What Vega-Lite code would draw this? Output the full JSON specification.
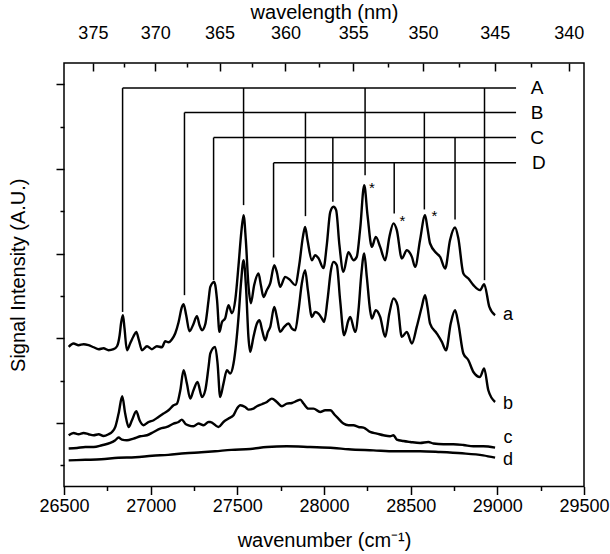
{
  "$schema": "https://vega.github.io/schema/vega-lite/v6.json",
  "width": 520,
  "height": 423.5,
  "autosize": "none",
  "padding": {"left": 64, "top": 63, "right": 26, "bottom": 67},
  "background": "white",
  "config": {
    "font": "Liberation Sans",
    "view": {"stroke": "black", "strokeWidth": 1.5},
    "axis": {"domain": false, "grid": false, "tickColor": "black", "tickWidth": 1.5, "labelColor": "black", "titleColor": "black", "labelFont": "Liberation Sans", "titleFont": "Liberation Sans", "labelFontSize": 18, "titleFontSize": 20, "titleFontWeight": "normal", "labelFlush": false}
  },
  "datasets": {
    "spectra": [
      {"s":"a","x":26527,"y":0.898},{"s":"a","x":26555,"y":0.938},{"s":"a","x":26584,"y":0.918},{"s":"a","x":26613,"y":0.93},{"s":"a","x":26642,"y":0.918},{"s":"a","x":26671,"y":0.894},{"s":"a","x":26700,"y":0.871},{"s":"a","x":26728,"y":0.882},{"s":"a","x":26757,"y":0.859},{"s":"a","x":26786,"y":0.871},{"s":"a","x":26806,"y":0.906},{"s":"a","x":26821,"y":1.036},{"s":"a","x":26830,"y":1.19},{"s":"a","x":26840,"y":1.272},{"s":"a","x":26849,"y":1.119},{"s":"a","x":26863,"y":0.859},{"s":"a","x":26882,"y":0.942},{"s":"a","x":26901,"y":1.024},{"s":"a","x":26917,"y":1.075},{"s":"a","x":26932,"y":0.977},{"s":"a","x":26950,"y":0.859},{"s":"a","x":26979,"y":0.906},{"s":"a","x":27007,"y":0.871},{"s":"a","x":27036,"y":0.906},{"s":"a","x":27065,"y":0.894},{"s":"a","x":27084,"y":0.965},{"s":"a","x":27103,"y":0.953},{"s":"a","x":27123,"y":0.989},{"s":"a","x":27142,"y":1.06},{"s":"a","x":27161,"y":1.19},{"s":"a","x":27180,"y":1.367},{"s":"a","x":27190,"y":1.402},{"s":"a","x":27205,"y":1.272},{"s":"a","x":27224,"y":1.083},{"s":"a","x":27244,"y":1.154},{"s":"a","x":27267,"y":1.26},{"s":"a","x":27282,"y":1.154},{"s":"a","x":27296,"y":1.095},{"s":"a","x":27315,"y":1.166},{"s":"a","x":27334,"y":1.45},{"s":"a","x":27344,"y":1.607},{"s":"a","x":27367,"y":1.666},{"s":"a","x":27383,"y":1.45},{"s":"a","x":27397,"y":1.075},{"s":"a","x":27411,"y":1.19},{"s":"a","x":27430,"y":1.237},{"s":"a","x":27449,"y":1.39},{"s":"a","x":27469,"y":1.296},{"s":"a","x":27488,"y":1.45},{"s":"a","x":27507,"y":1.863},{"s":"a","x":27523,"y":2.252},{"s":"a","x":27536,"y":2.454},{"s":"a","x":27549,"y":2.158},{"s":"a","x":27564,"y":1.627},{"s":"a","x":27578,"y":1.414},{"s":"a","x":27597,"y":1.627},{"s":"a","x":27622,"y":1.765},{"s":"a","x":27636,"y":1.627},{"s":"a","x":27651,"y":1.488},{"s":"a","x":27670,"y":1.567},{"s":"a","x":27690,"y":1.65},{"s":"a","x":27713,"y":1.863},{"s":"a","x":27728,"y":1.78},{"s":"a","x":27747,"y":1.607},{"s":"a","x":27776,"y":1.725},{"s":"a","x":27805,"y":1.686},{"s":"a","x":27834,"y":1.627},{"s":"a","x":27857,"y":1.863},{"s":"a","x":27878,"y":2.194},{"s":"a","x":27891,"y":2.315},{"s":"a","x":27905,"y":2.158},{"s":"a","x":27930,"y":1.922},{"s":"a","x":27949,"y":1.981},{"s":"a","x":27968,"y":1.946},{"s":"a","x":27997,"y":1.828},{"s":"a","x":28016,"y":2.099},{"s":"a","x":28036,"y":2.489},{"s":"a","x":28055,"y":2.552},{"s":"a","x":28070,"y":2.513},{"s":"a","x":28089,"y":2.099},{"s":"a","x":28112,"y":1.784},{"s":"a","x":28141,"y":2.017},{"s":"a","x":28170,"y":1.922},{"s":"a","x":28189,"y":1.961},{"s":"a","x":28209,"y":2.3},{"s":"a","x":28232,"y":2.808},{"s":"a","x":28251,"y":2.454},{"s":"a","x":28276,"y":2.079},{"s":"a","x":28299,"y":2.197},{"s":"a","x":28324,"y":2.079},{"s":"a","x":28353,"y":1.922},{"s":"a","x":28377,"y":2.194},{"s":"a","x":28401,"y":2.356},{"s":"a","x":28420,"y":2.276},{"s":"a","x":28449,"y":1.942},{"s":"a","x":28478,"y":2.04},{"s":"a","x":28507,"y":1.961},{"s":"a","x":28526,"y":1.843},{"s":"a","x":28554,"y":2.158},{"s":"a","x":28583,"y":2.454},{"s":"a","x":28597,"y":2.3},{"s":"a","x":28612,"y":2.119},{"s":"a","x":28651,"y":2.001},{"s":"a","x":28670,"y":1.961},{"s":"a","x":28699,"y":1.824},{"s":"a","x":28727,"y":2.158},{"s":"a","x":28756,"y":2.308},{"s":"a","x":28775,"y":2.182},{"s":"a","x":28804,"y":1.765},{"s":"a","x":28833,"y":1.706},{"s":"a","x":28862,"y":1.627},{"s":"a","x":28900,"y":1.568},{"s":"a","x":28924,"y":1.638},{"s":"a","x":28954,"y":1.37},{"s":"a","x":28987,"y":1.272},

      {"s":"b","x":26527,"y":-0.145},{"s":"b","x":26555,"y":-0.118},{"s":"b","x":26584,"y":-0.133},{"s":"b","x":26613,"y":-0.118},{"s":"b","x":26642,"y":-0.133},{"s":"b","x":26671,"y":-0.145},{"s":"b","x":26700,"y":-0.133},{"s":"b","x":26728,"y":-0.154},{"s":"b","x":26757,"y":-0.133},{"s":"b","x":26777,"y":-0.106},{"s":"b","x":26796,"y":-0.047},{"s":"b","x":26815,"y":0.111},{"s":"b","x":26836,"y":0.315},{"s":"b","x":26853,"y":0.111},{"s":"b","x":26873,"y":-0.047},{"s":"b","x":26892,"y":0.032},{"s":"b","x":26917,"y":0.138},{"s":"b","x":26936,"y":0.032},{"s":"b","x":26959,"y":-0.027},{"s":"b","x":26988,"y":0.012},{"s":"b","x":27017,"y":0.032},{"s":"b","x":27045,"y":0.071},{"s":"b","x":27074,"y":0.111},{"s":"b","x":27103,"y":0.15},{"s":"b","x":27132,"y":0.209},{"s":"b","x":27152,"y":0.229},{"s":"b","x":27171,"y":0.386},{"s":"b","x":27190,"y":0.623},{"s":"b","x":27209,"y":0.465},{"s":"b","x":27228,"y":0.288},{"s":"b","x":27247,"y":0.386},{"s":"b","x":27270,"y":0.484},{"s":"b","x":27296,"y":0.307},{"s":"b","x":27315,"y":0.386},{"s":"b","x":27334,"y":0.662},{"s":"b","x":27344,"y":0.82},{"s":"b","x":27372,"y":0.898},{"s":"b","x":27386,"y":0.702},{"s":"b","x":27401,"y":0.307},{"s":"b","x":27420,"y":0.465},{"s":"b","x":27440,"y":0.623},{"s":"b","x":27459,"y":0.584},{"s":"b","x":27478,"y":0.702},{"s":"b","x":27493,"y":0.938},{"s":"b","x":27507,"y":1.252},{"s":"b","x":27521,"y":1.647},{"s":"b","x":27536,"y":1.922},{"s":"b","x":27551,"y":1.568},{"s":"b","x":27564,"y":1.016},{"s":"b","x":27574,"y":0.839},{"s":"b","x":27593,"y":1.016},{"s":"b","x":27613,"y":1.174},{"s":"b","x":27628,"y":1.213},{"s":"b","x":27643,"y":1.095},{"s":"b","x":27661,"y":0.977},{"s":"b","x":27676,"y":1.075},{"s":"b","x":27690,"y":1.134},{"s":"b","x":27713,"y":1.37},{"s":"b","x":27728,"y":1.252},{"s":"b","x":27747,"y":1.075},{"s":"b","x":27770,"y":1.134},{"s":"b","x":27795,"y":1.174},{"s":"b","x":27815,"y":1.115},{"s":"b","x":27834,"y":1.095},{"s":"b","x":27853,"y":1.331},{"s":"b","x":27872,"y":1.647},{"s":"b","x":27891,"y":1.804},{"s":"b","x":27907,"y":1.568},{"s":"b","x":27930,"y":1.252},{"s":"b","x":27949,"y":1.311},{"s":"b","x":27968,"y":1.292},{"s":"b","x":27988,"y":1.233},{"s":"b","x":28001,"y":1.193},{"s":"b","x":28020,"y":1.45},{"s":"b","x":28040,"y":1.804},{"s":"b","x":28055,"y":1.902},{"s":"b","x":28074,"y":1.863},{"s":"b","x":28093,"y":1.45},{"s":"b","x":28116,"y":1.036},{"s":"b","x":28141,"y":1.213},{"s":"b","x":28151,"y":1.252},{"s":"b","x":28180,"y":1.075},{"s":"b","x":28199,"y":1.331},{"s":"b","x":28214,"y":1.725},{"s":"b","x":28232,"y":2.001},{"s":"b","x":28247,"y":1.725},{"s":"b","x":28266,"y":1.331},{"s":"b","x":28276,"y":1.233},{"s":"b","x":28299,"y":1.331},{"s":"b","x":28324,"y":1.252},{"s":"b","x":28353,"y":1.016},{"s":"b","x":28377,"y":1.292},{"s":"b","x":28401,"y":1.47},{"s":"b","x":28424,"y":1.39},{"s":"b","x":28449,"y":1.016},{"s":"b","x":28478,"y":1.075},{"s":"b","x":28507,"y":0.938},{"s":"b","x":28535,"y":1.134},{"s":"b","x":28564,"y":1.37},{"s":"b","x":28583,"y":1.509},{"s":"b","x":28597,"y":1.37},{"s":"b","x":28612,"y":1.174},{"s":"b","x":28651,"y":1.056},{"s":"b","x":28680,"y":0.957},{"s":"b","x":28704,"y":0.859},{"s":"b","x":28731,"y":1.174},{"s":"b","x":28756,"y":1.331},{"s":"b","x":28775,"y":1.174},{"s":"b","x":28804,"y":0.82},{"s":"b","x":28833,"y":0.741},{"s":"b","x":28862,"y":0.602},{"s":"b","x":28900,"y":0.543},{"s":"b","x":28924,"y":0.643},{"s":"b","x":28948,"y":0.386},{"s":"b","x":28987,"y":0.248},

      {"s":"c","x":26527,"y":-0.302},{"s":"c","x":26575,"y":-0.295},{"s":"c","x":26623,"y":-0.284},{"s":"c","x":26671,"y":-0.284},{"s":"c","x":26719,"y":-0.263},{"s":"c","x":26767,"y":-0.236},{"s":"c","x":26796,"y":-0.204},{"s":"c","x":26815,"y":-0.172},{"s":"c","x":26834,"y":-0.196},{"s":"c","x":26863,"y":-0.204},{"s":"c","x":26901,"y":-0.184},{"s":"c","x":26940,"y":-0.157},{"s":"c","x":26979,"y":-0.145},{"s":"c","x":27017,"y":-0.106},{"s":"c","x":27055,"y":-0.066},{"s":"c","x":27094,"y":-0.047},{"s":"c","x":27132,"y":-0.007},{"s":"c","x":27161,"y":0.012},{"s":"c","x":27180,"y":0.04},{"s":"c","x":27199,"y":-0.007},{"s":"c","x":27218,"y":-0.027},{"s":"c","x":27247,"y":-0.039},{"s":"c","x":27276,"y":-0.007},{"s":"c","x":27305,"y":-0.027},{"s":"c","x":27334,"y":0.012},{"s":"c","x":27344,"y":0.012},{"s":"c","x":27391,"y":-0.047},{"s":"c","x":27420,"y":0.012},{"s":"c","x":27449,"y":0.052},{"s":"c","x":27478,"y":0.091},{"s":"c","x":27498,"y":0.17},{"s":"c","x":27517,"y":0.209},{"s":"c","x":27545,"y":0.189},{"s":"c","x":27564,"y":0.158},{"s":"c","x":27593,"y":0.17},{"s":"c","x":27613,"y":0.197},{"s":"c","x":27642,"y":0.221},{"s":"c","x":27671,"y":0.248},{"s":"c","x":27699,"y":0.288},{"s":"c","x":27728,"y":0.248},{"s":"c","x":27757,"y":0.197},{"s":"c","x":27786,"y":0.229},{"s":"c","x":27815,"y":0.236},{"s":"c","x":27843,"y":0.26},{"s":"c","x":27863,"y":0.276},{"s":"c","x":27882,"y":0.229},{"s":"c","x":27910,"y":0.17},{"s":"c","x":27939,"y":0.17},{"s":"c","x":27978,"y":0.13},{"s":"c","x":28007,"y":0.15},{"s":"c","x":28036,"y":0.15},{"s":"c","x":28064,"y":0.091},{"s":"c","x":28083,"y":0.052},{"s":"c","x":28112,"y":-0.007},{"s":"c","x":28141,"y":-0.027},{"s":"c","x":28170,"y":-0.027},{"s":"c","x":28199,"y":-0.047},{"s":"c","x":28228,"y":-0.054},{"s":"c","x":28266,"y":-0.106},{"s":"c","x":28305,"y":-0.125},{"s":"c","x":28343,"y":-0.145},{"s":"c","x":28381,"y":-0.157},{"s":"c","x":28401,"y":-0.145},{"s":"c","x":28420,"y":-0.196},{"s":"c","x":28458,"y":-0.213},{"s":"c","x":28497,"y":-0.224},{"s":"c","x":28554,"y":-0.236},{"s":"c","x":28602,"y":-0.224},{"s":"c","x":28631,"y":-0.243},{"s":"c","x":28689,"y":-0.252},{"s":"c","x":28746,"y":-0.252},{"s":"c","x":28804,"y":-0.26},{"s":"c","x":28862,"y":-0.275},{"s":"c","x":28919,"y":-0.275},{"s":"c","x":28987,"y":-0.291},

      {"s":"d","x":26527,"y":-0.441},{"s":"d","x":26623,"y":-0.435},{"s":"d","x":26715,"y":-0.429},{"s":"d","x":26813,"y":-0.411},{"s":"d","x":26911,"y":-0.405},{"s":"d","x":27009,"y":-0.387},{"s":"d","x":27101,"y":-0.376},{"s":"d","x":27199,"y":-0.358},{"s":"d","x":27292,"y":-0.346},{"s":"d","x":27372,"y":-0.334},{"s":"d","x":27465,"y":-0.317},{"s":"d","x":27574,"y":-0.307},{"s":"d","x":27671,"y":-0.284},{"s":"d","x":27786,"y":-0.275},{"s":"d","x":27920,"y":-0.284},{"s":"d","x":28055,"y":-0.295},{"s":"d","x":28141,"y":-0.311},{"s":"d","x":28285,"y":-0.323},{"s":"d","x":28410,"y":-0.334},{"s":"d","x":28554,"y":-0.334},{"s":"d","x":28670,"y":-0.343},{"s":"d","x":28797,"y":-0.358},{"s":"d","x":28918,"y":-0.382},{"s":"d","x":28987,"y":-0.409}
    ],
    "drops": [
      {"g":"A","x":26838,"top":3.954,"bottom":1.311},{"g":"A","x":27536,"top":3.954,"bottom":2.572},{"g":"A","x":28237,"top":3.954,"bottom":2.926},{"g":"A","x":28926,"top":3.954,"bottom":1.686},
      {"g":"B","x":27195,"top":3.665,"bottom":1.509},{"g":"B","x":27893,"top":3.665,"bottom":2.442},{"g":"B","x":28579,"top":3.665,"bottom":2.521},
      {"g":"C","x":27363,"top":3.369,"bottom":1.686},{"g":"C","x":28051,"top":3.369,"bottom":2.611},{"g":"C","x":28756,"top":3.369,"bottom":2.403},
      {"g":"D","x":27709,"top":3.071,"bottom":1.954},{"g":"D","x":28405,"top":3.071,"bottom":2.474}
    ],
    "bars": [
      {"g":"A","x1":26838,"x2":29108,"y":3.954},
      {"g":"B","x1":27195,"x2":29108,"y":3.665},
      {"g":"C","x1":27363,"x2":29108,"y":3.369},
      {"g":"D","x1":27709,"x2":29108,"y":3.071}
    ],
    "labels": [
      {"t":"A","x":29229,"y":3.954,"k":"big"},{"t":"B","x":29229,"y":3.665,"k":"big"},{"t":"C","x":29229,"y":3.369,"k":"big"},{"t":"D","x":29240,"y":3.071,"k":"big"},
      {"t":"a","x":29062,"y":1.272,"k":"small"},{"t":"b","x":29062,"y":0.221,"k":"small"},{"t":"c","x":29062,"y":-0.181,"k":"small"},{"t":"d","x":29062,"y":-0.441,"k":"small"}
    ],
    "stars": [
      {"x":28276,"y":2.769},{"x":28452,"y":2.386},{"x":28637,"y":2.445}
    ]
  },
  "resolve": {"axis": {"x": "independent", "y": "independent"}},
  "layer": [
    {
      "data": {"name": "spectra"},
      "mark": {"type": "line", "color": "black", "strokeWidth": 2.4, "interpolate": "monotone"},
      "encoding": {
        "x": {"field": "x", "type": "quantitative", "scale": {"domain": [26500, 29500], "nice": false, "zero": false},
              "axis": {"orient": "bottom", "values": [26500, 27000, 27500, 28000, 28500, 29000, 29500], "format": "d", "tickSize": 8, "labelPadding": 3, "title": "wavenumber (cm⁻¹)", "titlePadding": 15}},
        "y": {"field": "y", "type": "quantitative", "scale": {"domain": [-0.75, 4.25], "nice": false, "zero": false},
              "axis": {"orient": "left", "values": [0, 1, 2, 3, 4], "tickSize": 8, "labels": false, "title": "Signal Intensity (A.U.)", "titlePadding": 27}},
        "detail": {"field": "s"}
      }
    },
    {
      "data": {"name": "drops"},
      "mark": {"type": "rule", "color": "black", "strokeWidth": 1.5},
      "encoding": {
        "x": {"field": "x", "type": "quantitative",
              "axis": {"orient": "bottom", "values": [26750, 27250, 27750, 28250, 28750, 29250], "tickSize": 4, "labels": false, "title": null}},
        "y": {"field": "top", "type": "quantitative",
              "axis": {"orient": "left", "values": [-0.5, 0.5, 1.5, 2.5, 3.5], "tickSize": 4, "labels": false, "title": null}},
        "y2": {"field": "bottom"}
      }
    },
    {
      "data": {"name": "bars"},
      "mark": {"type": "rule", "color": "black", "strokeWidth": 1.5},
      "encoding": {
        "x": {"field": "x1", "type": "quantitative",
              "axis": {"orient": "top", "values": [26666.6667, 27027.027, 27397.2603, 27777.7778, 28169.0141, 28571.4286, 28985.5072, 29411.7647], "labelExpr": "format(round(10000000/datum.value), 'd')", "tickSize": -8, "labelPadding": 29, "title": "wavelength (nm)", "titlePadding": 2}},
        "x2": {"field": "x2"},
        "y": {"field": "y", "type": "quantitative", "axis": null}
      }
    },
    {
      "data": {"name": "labels"},
      "mark": {"type": "text", "color": "black", "align": "center", "baseline": "middle"},
      "encoding": {
        "x": {"field": "x", "type": "quantitative",
              "axis": {"orient": "top", "values": [26845.6376, 27210.8844, 27586.2069, 27972.028, 28368.7943, 28776.9784, 29197.0803], "tickSize": -4, "labels": false, "title": null}},
        "y": {"field": "y", "type": "quantitative", "axis": null},
        "text": {"field": "t"},
        "size": {"field": "k", "type": "nominal", "scale": {"domain": ["big", "small"], "range": [19, 18]}, "legend": null}
      }
    },
    {
      "data": {"name": "stars"},
      "mark": {"type": "text", "color": "black", "text": "*", "fontSize": 15, "align": "center", "baseline": "middle"},
      "encoding": {
        "x": {"field": "x", "type": "quantitative", "axis": null},
        "y": {"field": "y", "type": "quantitative", "axis": null}
      }
    }
  ]
}
